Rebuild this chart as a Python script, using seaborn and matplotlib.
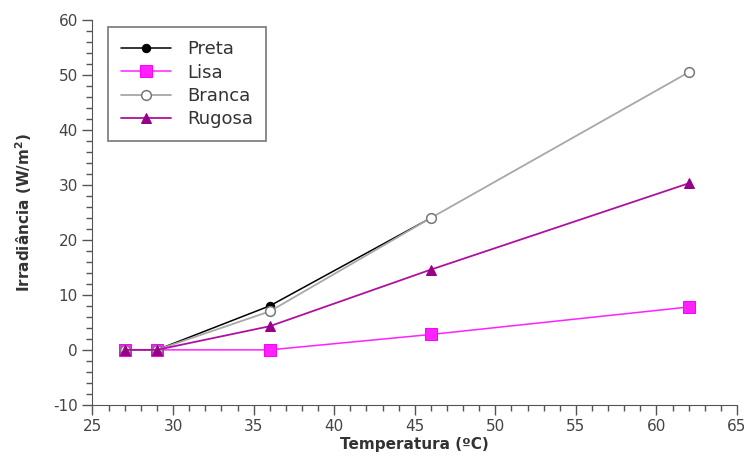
import matplotlib
matplotlib.use("Agg")
import matplotlib.pyplot as plt
import seaborn as sns
import pandas as pd
from matplotlib.ticker import MultipleLocator

# Data
x_preta = [27, 29, 36, 46]
y_preta = [0, 0, 8.0, 24.0]
x_lisa = [27, 29, 36, 46, 62]
y_lisa = [0, 0, 0, 2.8, 7.8]
x_branca = [27, 29, 36, 46, 62]
y_branca = [0, 0, 7.0, 24.0, 50.5]
x_rugosa = [27, 29, 36, 46, 62]
y_rugosa = [0, 0, 4.3, 14.6, 30.3]

sns.set_style("ticks")
plt.rcParams['font.family'] = ['DejaVu Sans']
plt.rcParams['axes.unicode_minus'] = False

fig = plt.figure(figsize=(7.52, 4.68), dpi=100)
ax = fig.add_axes([0.123, 0.135, 0.857, 0.822])

tc = '#444444'
sns.lineplot(x=x_preta, y=y_preta, ax=ax, color='black', marker='o', markersize=6,
             markeredgecolor='black', linewidth=1.1, label='Preta')
sns.lineplot(x=x_lisa, y=y_lisa, ax=ax, color='#ff22ff', marker='s', markersize=8,
             markeredgecolor='#ff00ff', linewidth=1.1, label='Lisa')
sns.lineplot(x=x_branca, y=y_branca, ax=ax, color='#a8a8a8', marker='o', markersize=7,
             markerfacecolor='white', markeredgecolor='#777777', markeredgewidth=1.1,
             linewidth=1.3, label='Branca')
sns.lineplot(x=x_rugosa, y=y_rugosa, ax=ax, color='#b0109f', marker='^', markersize=7,
             markerfacecolor='#990088', markeredgecolor='#990088', linewidth=1.3, label='Rugosa')

ax.set_xlim(25, 65)
ax.set_ylim(-10, 60)
ax.xaxis.set_major_locator(MultipleLocator(5))
ax.xaxis.set_minor_locator(MultipleLocator(1))
ax.yaxis.set_major_locator(MultipleLocator(10))
ax.yaxis.set_minor_locator(MultipleLocator(2))
ax.tick_params(which='major', length=7, width=1, color='#555555', labelsize=11, labelcolor=tc, direction='out')
ax.tick_params(which='minor', length=4, width=1, color='#555555', direction='out')
for s in ['top', 'right']:
    ax.spines[s].set_visible(False)
for s in ['left', 'bottom']:
    ax.spines[s].set_color('#555555')

ax.set_xlabel('Temperatura (ºC)', fontsize=11, fontweight='bold', color='#333333', labelpad=2)
ax.set_ylabel('Irradiância (W/m$^\\mathbf{2}$)', fontsize=11, fontweight='bold', color='#333333', labelpad=14)

leg = ax.legend(loc='upper left', bbox_to_anchor=(0.016, 0.995), fontsize=13, frameon=True,
                fancybox=False, edgecolor='#555555', handlelength=2.8, borderpad=0.7,
                labelspacing=0.3, handletextpad=0.9, borderaxespad=0.3)
leg.get_frame().set_linewidth(1.2)
for t in leg.get_texts():
    t.set_color('#333333')

fig.savefig('out.png', dpi=100)
